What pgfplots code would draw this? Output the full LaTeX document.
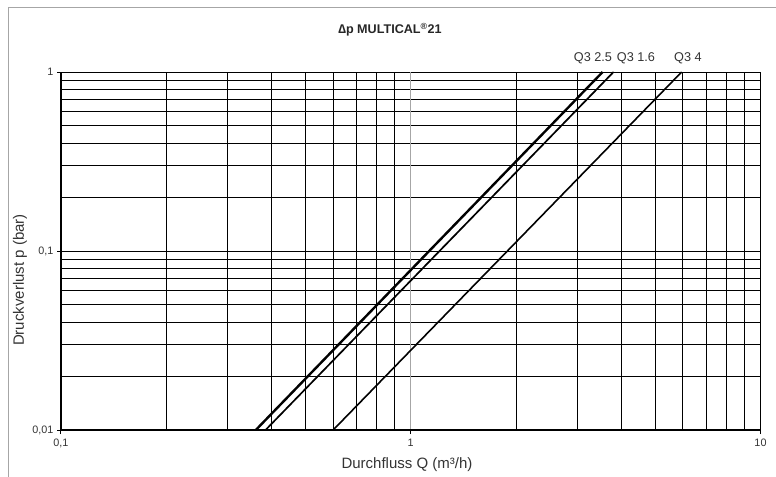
\documentclass[border=0pt]{standalone}
\usepackage{pgfplots}
\pgfplotsset{compat=1.18}
\usepackage{fontspec}
\setmainfont{Liberation Sans}
\begin{document}
\begin{tikzpicture}
\useasboundingbox (0,0) rectangle (776bp,477bp);
\draw[gray!70, line width=1.2bp] (8.5bp,0) -- (8.5bp,469.5bp) -- (776bp,469.5bp);
\node[font=\fontsize{12.6bp}{14bp}\selectfont\bfseries, text=black!85] at (390bp,447.5bp) {∆p MULTICAL\textsuperscript{®}21};
\begin{axis}[
  at={(61bp,47bp)}, anchor=south west,
  scale only axis, width=699.5bp, height=358bp,
  xmode=log, ymode=log,
  xmin=0.1, xmax=10, ymin=0.01, ymax=1,
  clip=false,
  xtick={0.1,1,10}, xticklabels={{0,1},1,10},
  ytick={0.01,0.1,1}, yticklabels={{0,01},{0,1},1},
  minor xtick={0.2,0.3,0.4,0.5,0.6,0.7,0.8,0.9,2,3,4,5,6,7,8,9},
  minor ytick={0.02,0.03,0.04,0.05,0.06,0.07,0.08,0.09,0.2,0.3,0.4,0.5,0.6,0.7,0.8,0.9},
  grid=both,
  major grid style={black, line width=1bp},
  minor grid style={black, line width=1bp},
  axis line style={black, line width=1bp},
  tick align=outside,
  xtick pos=bottom, ytick pos=left,
  major tick length=4bp, minor tick length=0pt,
  tick style={black, line width=1bp},
  tick label style={font=\fontsize{10.8bp}{12bp}\selectfont, text=black!80},
  xticklabel style={yshift=-1.5bp},
  label style={font=\fontsize{15bp}{17bp}\selectfont, text=black!80},
  xlabel={Durchfluss Q (m³/h)},
  ylabel={Druckverlust p (bar)},
  xlabel style={at={(axis description cs:0.4946,-0.0978)}, anchor=center},
  ylabel style={at={(axis description cs:-0.0586,0.419)}, anchor=center},
]
\draw[gray!70, line width=1bp] (axis cs:1,0.01) -- (axis cs:1,1);
\addplot[black, line width=2.4bp] coordinates {(0.3606,0.01) (3.537,1)};
\addplot[black, line width=1.7bp] coordinates {(0.3845,0.01) (3.80,1)};
\addplot[black, line width=1.6bp] coordinates {(0.600,0.01) (5.95,1)};
\draw[black, line width=2.2bp] (rel axis cs:0,1) -- (rel axis cs:0,0) -- (rel axis cs:1,0);
\end{axis}
\begin{scope}[every node/.style={font=\fontsize{12.7bp}{14bp}\selectfont, text=black!80}]
\node at (593bp,419bp) {Q3 2.5};
\node at (636bp,419bp) {Q3 1.6};
\node at (688bp,419bp) {Q3 4};
\end{scope}
\end{tikzpicture}
\end{document}
